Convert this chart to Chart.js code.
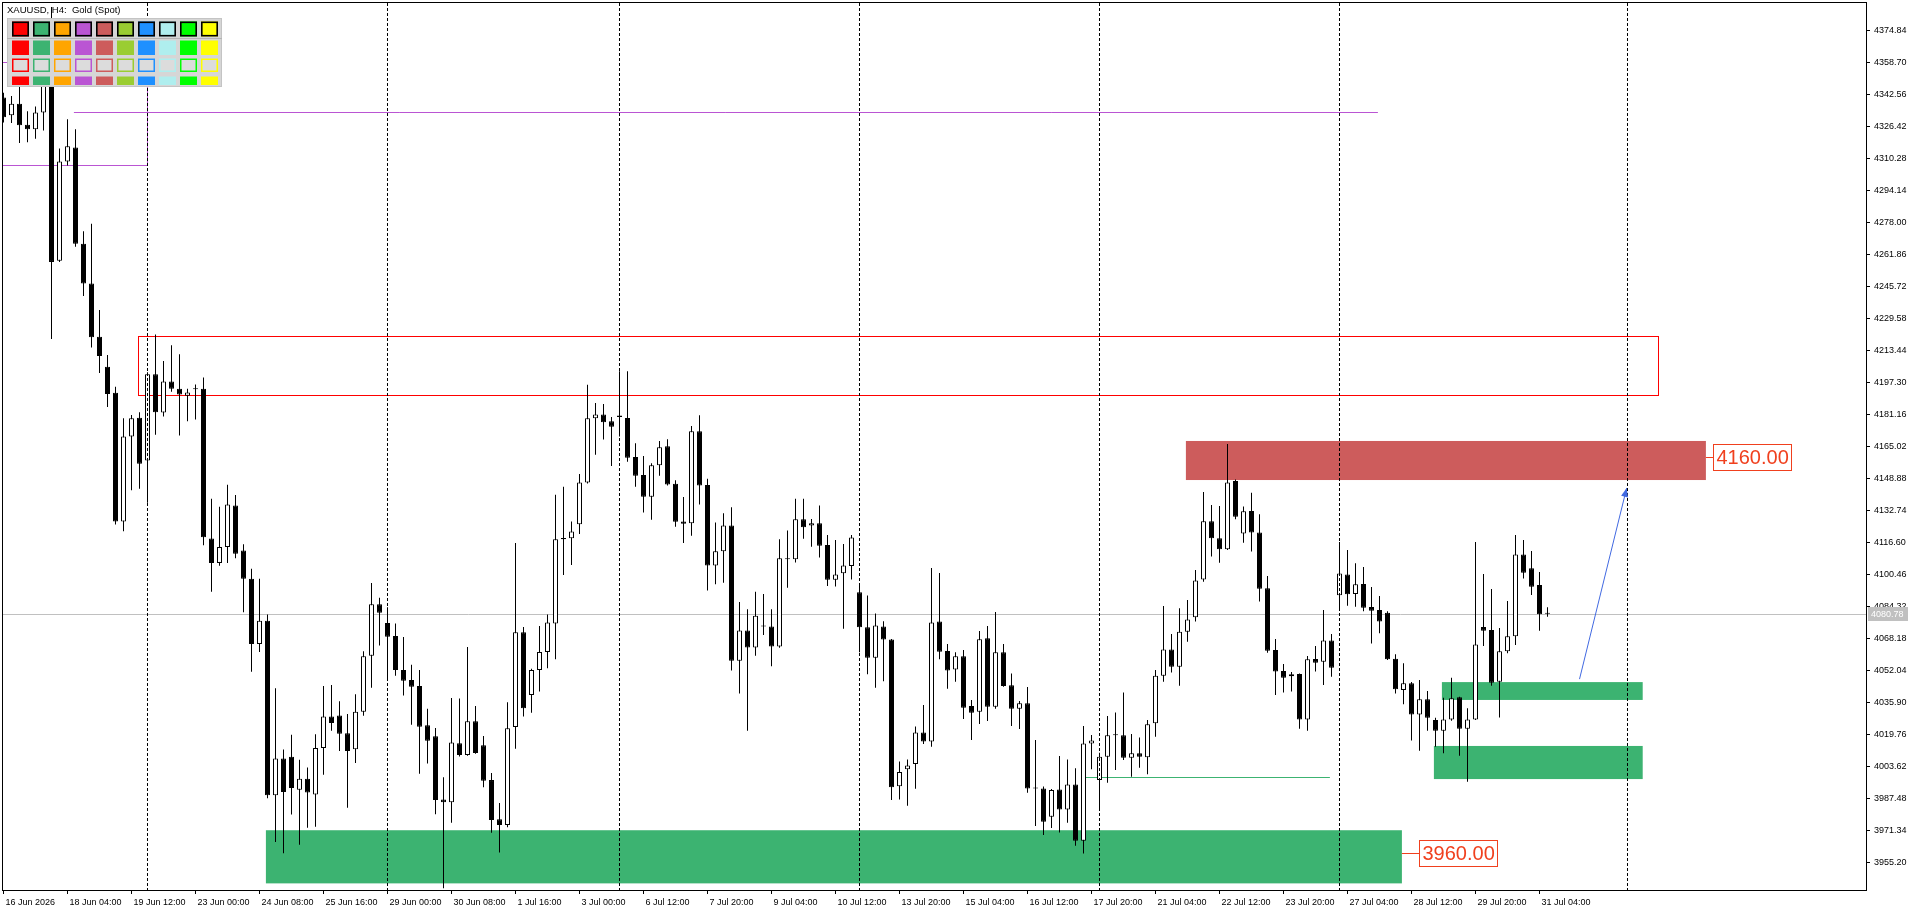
<!DOCTYPE html>
<html>
<head>
<meta charset="utf-8">
<title>XAUUSD, H4</title>
<script src="https://cdn.jsdelivr.net/npm/chart.js@4.4.1/dist/chart.umd.min.js"></script>
<style>
  html, body { margin:0; padding:0; background:#fff; }
  #wrap { width:1920px; height:915px; }
</style>
</head>
<body>
<div id="wrap"><canvas id="chart" width="1920" height="915"></canvas></div>
<script>
// XAUUSD H4 candles (bar index 0 = 16 Jun 2026 20:00)
const opens = [4341.1,4332.2,4337.9,4327.4,4325.1,4333.6,4352.0,4258.8,4308.8,4315.9,
  4267.3,4247.3,4220.5,4205.3,4192.2,4127.3,4170.1,4179.6,4158.1,4201.6,
  4182.2,4197.9,4194.2,4190.7,4194.0,4194.2,4118.7,4106.4,4114.4,4135.3,
  4112.7,4098.4,4065.5,4077.2,3989.2,4007.8,4008.6,3992.0,3997.5,3989.6,
  4013.1,4029.0,4029.5,4020.5,4012.4,4031.3,4059.6,4085.5,4076.1,4069.6,
  4052.4,4047.4,4044.3,4024.5,4019.0,3987.1,3985.7,4015.5,4009.5,4026.5,
  4014.5,3996.9,3977.2,3974.3,4023.6,4071.4,4039.8,4052.4,4061.5,4075.9,
  4119.0,4118.8,4125.9,4147.0,4179.3,4181.3,4177.8,4180.8,4179.5,4159.8,
  4150.8,4139.8,4155.6,4165.2,4146.3,4127.3,4126.4,4172.8,4145.7,4105.1,
  4112.3,4125.3,4057.1,4072.3,4063.8,4074.4,4074.4,4064.3,4108.7,4108.2,
  4128.4,4125.3,4126.4,4115.4,4097.9,4101.2,4104.8,4091.6,4073.9,4058.6,
  4074.4,4067.8,3993.8,4002.3,4005.0,4020.9,4016.3,4076.9,4062.0,4052.7,
  4059.3,4034.2,4031.4,4068.4,4033.9,4061.3,4044.7,4032.9,4035.6,3992.7,
  3992.7,3978.4,3992.2,3982.1,3994.7,3966.3,4015.4,3996.9,4008.7,4019.5,
  4019.5,4008.2,4010.4,4008.4,4025.5,4049.5,4062.8,4054.1,4071.7,4079.0,
  4098.1,4127.4,4118.8,4113.3,4147.7,4121.3,4132.6,4121.8,4093.6,4062.5,
  4051.9,4049.2,4050.4,4027.5,4058.0,4056.6,4067.3,4090.1,4100.6,4090.7,
  4095.8,4084.2,4082.7,4081.3,4058.1,4042.3,4045.7,4030.0,4037.6,4027.2,
  4021.8,4027.5,4038.6,4022.8,4027.5,4074.1,4072.6,4046.5,4061.8,4069.4,
  4110.7,4103.7,4095.3,4081.0];
const highs = [4343.5,4341.8,4349.0,4334.2,4336.6,4356.0,4386.7,4315.4,4330.2,4325.1,
  4273.6,4277.4,4233.9,4211.3,4195.3,4179.3,4181.0,4182.4,4202.5,4221.6,
  4208.2,4216.2,4211.6,4194.2,4196.4,4199.9,4138.7,4134.7,4145.8,4140.7,
  4115.8,4103.5,4098.4,4080.4,4043.2,4012.3,4019.8,4007.2,4003.2,4020.0,
  4044.3,4044.9,4036.7,4030.2,4040.2,4061.8,4096.3,4088.9,4084.0,4075.9,
  4069.0,4055.1,4052.4,4032.8,4023.2,3998.3,4038.3,4038.0,4064.0,4034.2,
  4019.1,4000.5,3985.3,4036.2,4116.5,4074.1,4053.0,4074.6,4080.4,4140.8,
  4144.8,4127.3,4151.3,4196.2,4187.0,4186.5,4180.0,4203.1,4203.1,4166.7,
  4160.3,4156.7,4167.9,4168.8,4148.1,4139.6,4175.5,4180.9,4148.8,4126.8,
  4131.5,4134.5,4086.7,4083.1,4091.8,4090.7,4083.1,4118.3,4122.8,4138.7,
  4138.7,4128.6,4135.4,4120.5,4117.9,4115.9,4120.5,4095.4,4090.0,4080.9,
  4077.0,4068.0,4006.3,4007.3,4023.9,4034.7,4103.8,4101.3,4065.5,4061.3,
  4062.5,4037.3,4072.1,4074.6,4081.6,4065.5,4050.7,4036.8,4043.8,4017.1,
  3993.6,3992.4,4009.0,4007.3,4002.8,4024.2,4019.6,4010.7,4029.2,4031.0,
  4041.1,4020.1,4018.4,4027.2,4052.4,4084.7,4070.5,4083.5,4087.7,4102.8,
  4142.2,4135.6,4135.1,4166.4,4148.5,4134.8,4141.8,4130.9,4099.8,4068.0,
  4055.4,4051.4,4050.7,4059.5,4064.5,4082.7,4070.6,4116.9,4112.9,4106.2,
  4104.3,4094.3,4089.7,4082.0,4060.3,4055.8,4046.3,4047.4,4041.8,4028.3,
  4038.4,4048.5,4038.9,4033.1,4116.9,4100.8,4093.2,4073.6,4087.2,4120.5,
  4117.9,4112.4,4101.8,4084.0];
const lows = [4328.5,4328.3,4318.2,4318.5,4320.3,4324.5,4219.3,4258.2,4306.8,4265.9,
  4241.0,4215.0,4202.2,4185.0,4125.8,4122.4,4143.0,4143.8,4136.7,4171.0,
  4180.2,4192.7,4170.7,4177.9,4178.7,4115.3,4091.8,4105.0,4106.4,4108.7,
  4081.5,4051.5,4061.5,3987.7,3965.7,3960.0,3979.5,3964.3,3972.9,3973.4,
  3999.6,4021.8,4011.6,3983.0,4005.5,4029.3,4043.4,4064.7,4047.9,4049.5,
  4039.5,4024.8,4000.1,4005.2,3979.7,3942.4,3975.4,4008.8,4009.1,4010.2,
  3993.3,3970.3,3960.4,3973.1,4012.7,4029.0,4030.8,4041.6,4053.3,4057.8,
  4100.3,4105.3,4121.0,4146.5,4161.0,4168.6,4155.3,4170.1,4157.4,4144.8,
  4131.8,4128.2,4150.4,4145.4,4124.6,4116.5,4120.1,4135.8,4092.5,4095.7,
  4096.4,4052.1,4040.5,4021.8,4059.6,4070.1,4054.3,4063.6,4093.9,4106.6,
  4118.6,4114.5,4109.1,4094.8,4094.5,4073.2,4098.1,4061.4,4050.3,4043.4,
  4046.7,3986.8,3987.1,3983.9,3992.5,4015.1,4013.7,4057.8,4043.0,4046.5,
  4027.7,4017.1,4025.2,4026.7,4032.9,4044.0,4024.2,4022.6,3990.5,3973.7,
  3969.2,3972.7,3970.4,3975.4,3963.8,3959.9,4002.3,3982.6,3995.6,4002.0,
  4007.0,3998.6,4003.1,3999.8,4018.8,4046.5,4051.1,4044.5,4066.7,4076.8,
  4096.9,4109.6,4106.5,4112.9,4128.4,4116.6,4112.1,4086.9,4061.1,4039.8,
  4041.0,4041.5,4022.8,4021.8,4051.6,4044.8,4049.0,4082.3,4084.8,4084.3,
  4082.0,4065.8,4070.9,4057.4,4040.6,4035.1,4016.8,4011.7,4021.8,4013.7,
  4010.4,4026.8,4009.2,3996.1,4027.2,4064.5,4044.5,4028.4,4060.8,4065.0,
  4098.5,4090.2,4072.2,4079.3];
const closes = [4331.1,4337.9,4327.1,4325.1,4333.6,4352.0,4258.2,4308.8,4316.5,4267.3,
  4247.3,4220.2,4210.7,4191.6,4127.3,4170.1,4179.3,4156.4,4201.6,4182.4,
  4197.9,4194.2,4191.3,4192.4,4194.4,4119.3,4106.4,4114.4,4135.8,4111.0,
  4098.4,4065.5,4077.2,3989.2,4007.8,3990.9,3992.9,3997.5,3990.6,4013.1,
  4029.0,4025.7,4020.3,4011.6,4031.3,4059.3,4085.5,4081.3,4069.2,4052.4,
  4047.0,4044.0,4023.8,4016.7,3986.9,3985.7,4015.8,4009.5,4026.5,4010.6,
  3996.5,3976.7,3974.3,4023.0,4071.4,4033.1,4052.4,4061.5,4076.4,4118.3,
  4118.3,4122.3,4147.0,4179.3,4181.3,4177.3,4175.1,4180.0,4159.4,4150.4,
  4139.8,4155.6,4164.7,4145.9,4127.1,4126.2,4172.8,4145.4,4105.1,4112.3,
  4125.3,4057.1,4072.3,4063.8,4079.8,4074.6,4064.3,4108.7,4108.2,4128.4,
  4124.4,4126.4,4115.0,4097.9,4100.6,4105.1,4119.2,4073.9,4058.6,4074.8,
  4067.8,3993.3,4001.0,4004.3,4020.9,4016.4,4076.4,4061.6,4052.1,4059.3,
  4033.4,4030.9,4067.9,4033.9,4061.3,4044.3,4032.9,4035.6,3992.6,3992.9,
  3975.9,3991.9,3982.1,3994.7,3966.3,4015.4,4016.8,4008.7,4019.5,4019.7,
  4008.2,4010.4,4008.7,4025.0,4049.5,4062.8,4054.1,4071.7,4077.9,4097.5,
  4127.4,4118.8,4113.3,4147.0,4129.7,4132.4,4121.7,4093.4,4062.1,4051.6,
  4048.5,4050.2,4027.5,4057.8,4056.1,4067.3,4053.6,4101.1,4090.6,4095.6,
  4083.8,4082.3,4076.8,4057.8,4042.7,4045.7,4030.0,4037.6,4028.3,4021.8,
  4027.5,4038.1,4022.8,4027.5,4065.3,4072.2,4046.0,4061.8,4069.4,4110.7,
  4101.5,4094.4,4080.5,4080.78];

// time axis labels, one every 8 bars
const timeTickBars = [0,8,16,24,32,40,48,56,64,72,80,88,96,104,112,120,128,136,144,152,160,168,176,184,192];
const timeLabels = ['16 Jun 2026','18 Jun 04:00','19 Jun 12:00','23 Jun 00:00','24 Jun 08:00','25 Jun 16:00',
  '29 Jun 00:00','30 Jun 08:00','1 Jul 16:00','3 Jul 00:00','6 Jul 12:00','7 Jul 20:00','9 Jul 04:00',
  '10 Jul 12:00','13 Jul 20:00','15 Jul 04:00','16 Jul 12:00','17 Jul 20:00','21 Jul 04:00','22 Jul 12:00',
  '23 Jul 20:00','27 Jul 04:00','28 Jul 12:00','29 Jul 20:00','31 Jul 04:00'];
const priceTicks = [3955.20,3971.34,3987.48,4003.62,4019.76,4035.90,4052.04,4068.18,4084.32,4100.46,
  4116.60,4132.74,4148.88,4165.02,4181.16,4197.30,4213.44,4229.58,4245.72,4261.86,4278.00,4294.14,
  4310.28,4326.42,4342.56,4358.70,4374.84];
const lastPrice = 4080.78;

// drawn objects, in bar index / price units
const separators = [17.9, 47.9, 76.9, 106.9, 136.9, 166.9, 202.9];
const supplyZone = [147.8, 212.8, 4148.2, 4167.9];
const demandZones = [[32.8, 174.8, 3944.8, 3971.6], [179.8, 204.9, 4037.3, 4046.3], [178.8, 204.9, 3997.4, 4014.1]];
const resistBox = [16.85, 206.9, 4190.8, 4220.8];
const oldRangeBox = [-3, 17.9, 4306.8, 4358.8];
const purpleLevel = [8.8, 171.8, 4334.0];
const greenLevel = [134.85, 165.8, 3998.2];
const targetArrow = [197.0, 4047.8, 202.9, 4144.2];
const priceTags = [[4160.00, 212.8, 213.7], [3960.00, 174.8, 176.9]];
const palette = ['#FF0000','#3CB371','#FFA500','#BA55D3','#CD5C5C','#9ACD32','#1E90FF','#AFEEEE','#00FF00','#FFFF00'];

const FONT = '"Liberation Sans", Arial, sans-serif';
const TAG_RED = '#F0401E';

const overlay = {
  id: 'overlay',
  beforeDatasetsDraw(chart) {
    const {ctx, chartArea: a, scales: {x, y}} = chart;
    const X = v => x.getPixelForValue(v), Y = v => y.getPixelForValue(v);
    const c = v => Math.round(v) + 0.5;
    ctx.save();
    ctx.beginPath(); ctx.rect(a.left, a.top, a.right - a.left, a.bottom - a.top); ctx.clip();

    ctx.fillStyle = '#CD5C5C';
    ctx.fillRect(X(supplyZone[0]), Y(supplyZone[3]), X(supplyZone[1]) - X(supplyZone[0]), Y(supplyZone[2]) - Y(supplyZone[3]));
    ctx.fillStyle = '#3CB371';
    demandZones.forEach(z => {
      ctx.fillRect(X(z[0]), Y(z[3]), X(z[1]) - X(z[0]), Y(z[2]) - Y(z[3]));
    });

    ctx.lineWidth = 1;
    ctx.strokeStyle = '#FF0000';
    ctx.strokeRect(c(X(resistBox[0])), c(Y(resistBox[3])), Math.round(X(resistBox[1]) - X(resistBox[0])), Math.round(Y(resistBox[2]) - Y(resistBox[3])));
    ctx.strokeStyle = '#BA55D3';
    ctx.strokeRect(c(X(oldRangeBox[0])), c(Y(oldRangeBox[3])), Math.round(X(oldRangeBox[1]) - X(oldRangeBox[0])), Math.round(Y(oldRangeBox[2]) - Y(oldRangeBox[3])));
    ctx.beginPath();
    ctx.moveTo(X(purpleLevel[0]), c(Y(purpleLevel[2])));
    ctx.lineTo(X(purpleLevel[1]), c(Y(purpleLevel[2])));
    ctx.stroke();
    ctx.strokeStyle = '#3CB371';
    ctx.beginPath();
    ctx.moveTo(X(greenLevel[0]), c(Y(greenLevel[2])));
    ctx.lineTo(X(greenLevel[1]), c(Y(greenLevel[2])));
    ctx.stroke();

    // current bid line
    ctx.strokeStyle = '#C0C0C0';
    ctx.beginPath();
    ctx.moveTo(a.left, c(Y(lastPrice)));
    ctx.lineTo(a.right, c(Y(lastPrice)));
    ctx.stroke();
    ctx.restore();
  },
  afterDatasetsDraw(chart) {
    const {ctx, chartArea: a, scales: {x, y}} = chart;
    const X = v => x.getPixelForValue(v), Y = v => y.getPixelForValue(v);
    ctx.save();
    ctx.beginPath(); ctx.rect(a.left, a.top, a.right - a.left, a.bottom - a.top); ctx.clip();

    // period separators
    ctx.strokeStyle = '#000';
    ctx.lineWidth = 1;
    ctx.setLineDash([3, 2]);
    separators.forEach(s => {
      const px = Math.round(X(s)) + 0.5;
      ctx.beginPath(); ctx.moveTo(px, a.top); ctx.lineTo(px, a.bottom); ctx.stroke();
    });
    ctx.setLineDash([]);

    // arrow to target
    const x0 = X(targetArrow[0]), y0 = Y(targetArrow[1]), x1 = X(targetArrow[2]), y1 = Y(targetArrow[3]);
    ctx.strokeStyle = '#4169E1';
    ctx.fillStyle = '#4169E1';
    ctx.beginPath(); ctx.moveTo(x0, y0); ctx.lineTo(x1, y1); ctx.stroke();
    const ang = Math.atan2(y1 - y0, x1 - x0);
    ctx.beginPath();
    ctx.moveTo(x1, y1);
    ctx.lineTo(x1 - 9 * Math.cos(ang) + 3.5 * Math.sin(ang), y1 - 9 * Math.sin(ang) - 3.5 * Math.cos(ang));
    ctx.lineTo(x1 - 9 * Math.cos(ang) - 3.5 * Math.sin(ang), y1 - 9 * Math.sin(ang) + 3.5 * Math.cos(ang));
    ctx.closePath(); ctx.fill();
    ctx.restore();
  },
  afterDraw(chart) {
    const {ctx, chartArea: a, scales: {x, y}} = chart;
    const X = v => x.getPixelForValue(v), Y = v => y.getPixelForValue(v);
    ctx.save();

    // frame
    ctx.strokeStyle = '#000';
    ctx.lineWidth = 1;
    ctx.strokeRect(a.left - 0.5, a.top - 0.5, a.right - a.left + 1, a.bottom - a.top + 1);

    // price tags with leader lines
    ctx.font = '20px ' + FONT;
    ctx.textBaseline = 'middle';
    priceTags.forEach(t => {
      const py = Math.round(Y(t[0])) + 0.5;
      const bx = Math.round(X(t[2])) + 0.5;
      const txt = t[0].toFixed(2);
      const w = Math.round(ctx.measureText(txt).width) + 6;
      ctx.strokeStyle = TAG_RED;
      ctx.beginPath(); ctx.moveTo(X(t[1]), py); ctx.lineTo(bx, py); ctx.stroke();
      ctx.fillStyle = '#fff';
      ctx.fillRect(bx, py - 13, w, 26);
      ctx.strokeRect(bx, py - 13, w, 26);
      ctx.fillStyle = TAG_RED;
      ctx.fillText(txt, bx + 3, py + 1);
    });

    // bid tag on the price axis
    const ly = Math.round(Y(lastPrice));
    ctx.fillStyle = '#C0C0C0';
    ctx.fillRect(a.right + 2, ly - 7, 40, 14);
    ctx.fillStyle = '#fff';
    ctx.font = '9px ' + FONT;
    ctx.fillText(lastPrice.toFixed(2), a.right + 5, ly + 0.5);

    // colour picker panel
    ctx.fillStyle = '#D6D6D6';
    ctx.fillRect(7, 18.5, 215, 68);
    ctx.strokeStyle = '#C4C4C4';
    ctx.strokeRect(7.5, 18.5, 214, 68);
    ctx.beginPath(); ctx.moveTo(7, 38.5); ctx.lineTo(222, 38.5); ctx.strokeStyle = '#B4B4B4'; ctx.stroke();
    palette.forEach((col, i) => {
      const sx = 12 + 21 * i;
      ctx.fillStyle = col;
      ctx.fillRect(sx, 21.5, 17, 15);
      ctx.strokeStyle = '#000';
      ctx.lineWidth = 1.6;
      ctx.strokeRect(sx + 0.8, 22.3, 15.4, 13.4);
      ctx.fillRect(sx, 40.5, 17, 14.5);
      ctx.fillStyle = '#DCDCDC';
      ctx.fillRect(sx, 58.5, 17, 13.5);
      ctx.strokeStyle = col;
      ctx.lineWidth = 1.5;
      ctx.strokeRect(sx + 0.75, 59.25, 15.5, 12);
      ctx.fillStyle = col;
      ctx.fillRect(sx, 76.5, 17, 8.5);
    });

    // chart title
    ctx.fillStyle = '#000';
    ctx.font = '9.5px ' + FONT;
    ctx.textBaseline = 'middle';
    ctx.fillText('XAUUSD, H4:  Gold (Spot)', 7, 10);
    ctx.restore();
  }
};

const idx = opens.map((_, i) => i);
const tickFont = { family: FONT, size: 9 };

new Chart(document.getElementById('chart'), {
  type: 'bar',
  data: {
    datasets: [
      {
        label: 'body',
        data: idx.map(i => ({ x: i, y: [opens[i], closes[i]] })),
        backgroundColor: idx.map(i => closes[i] >= opens[i] ? '#FFFFFF' : '#000000'),
        borderColor: '#000', borderWidth: 1, borderSkipped: false,
        barThickness: 5, minBarLength: 1, grouped: false, inflateAmount: 0, order: 0
      },
      {
        label: 'wick',
        data: idx.map(i => ({ x: i, y: [lows[i], highs[i]] })),
        backgroundColor: '#000', borderWidth: 0,
        barThickness: 1, grouped: false, inflateAmount: 0, order: 1
      }
    ]
  },
  options: {
    responsive: false,
    animation: false,
    devicePixelRatio: 1,
    layout: { padding: { left: 3, top: 3, right: 0, bottom: 0 } },
    plugins: { legend: { display: false }, tooltip: { enabled: false } },
    scales: {
      x: {
        type: 'linear', position: 'bottom', offset: false,
        min: -0.0625, max: 232.8125,
        afterBuildTicks: s => { s.ticks = timeTickBars.map(v => ({ value: v })); },
        afterFit: s => { s.height = 25; s.paddingLeft = 0; s.paddingRight = 0; },
        ticks: { callback: (v, i) => timeLabels[i], align: 'start', labelOffset: 2, autoSkip: false, maxRotation: 0, minRotation: 0, padding: 3, color: '#000', font: tickFont },
        grid: { drawOnChartArea: false, drawTicks: true, tickLength: 4, color: '#000', offset: false },
        border: { display: false }
      },
      y: {
        type: 'linear', position: 'right',
        min: 3941.46, max: 4388.76,
        afterBuildTicks: s => { s.ticks = priceTicks.map(v => ({ value: v })); },
        afterFit: s => { s.width = 54; s.paddingTop = 0; s.paddingBottom = 0; },
        ticks: { callback: v => Number(v).toFixed(2), padding: 4, color: '#000', font: tickFont },
        grid: { drawOnChartArea: false, drawTicks: true, tickLength: 4, color: '#000' },
        border: { display: false }
      }
    }
  },
  plugins: [overlay]
});
</script>
</body>
</html>
